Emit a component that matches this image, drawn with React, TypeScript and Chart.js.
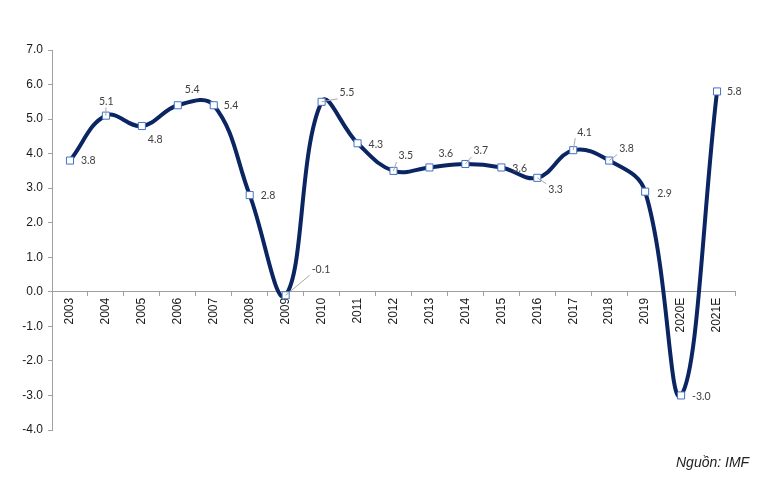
import React, { useEffect, useRef } from "react";
import { Chart, registerables } from "chart.js";

Chart.register(...registerables);

// ---- data ----
const CATEGORIES = [
  "2003", "2004", "2005", "2006", "2007", "2008", "2009", "2010", "2011", "2012",
  "2013", "2014", "2015", "2016", "2017", "2018", "2019", "2020E", "2021E",
];
const GDP_GROWTH = [3.8, 5.1, 4.8, 5.4, 5.4, 2.8, -0.1, 5.5, 4.3, 3.5, 3.6, 3.7, 3.6, 3.3, 4.1, 3.8, 2.9, -3.0, 5.8];
const Y_MIN = -4;
const Y_MAX = 7;
const Y_STEP = 1;
const SOURCE_TEXT = "Nguồn: IMF";

// ---- label placement (styling): [dx to label left edge, dy to label centre, leader line] ----
const LABEL_PLACEMENT: [number, number, boolean][] = [
  [11, 0, false],
  [-7, -14, true],
  [6, 14, false],
  [7, -16, false],
  [10, 0, false],
  [11, 1, false],
  [26, -26, true],
  [18, -9, true],
  [11, 1, false],
  [5, -15, true],
  [9, -14, false],
  [8, -13, true],
  [11, 1, false],
  [11, 12, true],
  [4, -18, true],
  [10, -12, true],
  [12, 2, false],
  [11, 1, false],
  [10, 0, false],
];

const labelPlugin = {
  id: "valueLabels",
  afterDatasetsDraw(chart: any) {
    const ctx = chart.ctx;
    const meta = chart.getDatasetMeta(0);
    ctx.save();
    ctx.font = "10.5px Lato, 'Liberation Sans', sans-serif";
    ctx.textBaseline = "middle";
    ctx.textAlign = "left";
    meta.data.forEach((pt: any, i: number) => {
      const v = GDP_GROWTH[i];
      const text = v.toFixed(1);
      const [dx, dy, leader] = LABEL_PLACEMENT[i];
      const w = ctx.measureText(text).width;
      const lx = pt.x + dx;
      const ly = pt.y + dy;
      if (leader) {
        const tx = Math.max(lx - 2, Math.min(pt.x, lx + w));
        const ty = Math.max(ly - 6, Math.min(pt.y, ly + 6));
        ctx.strokeStyle = "#A6A6A6";
        ctx.lineWidth = 1;
        ctx.beginPath();
        ctx.moveTo(pt.x, pt.y);
        ctx.lineTo(tx, ty);
        ctx.stroke();
      }
      ctx.fillStyle = "#404040";
      ctx.fillText(text, lx, ly);
    });
    ctx.restore();
  },
};

export default function App() {
  const ref = useRef<HTMLCanvasElement | null>(null);

  useEffect(() => {
    if (!ref.current) return;
    const chart = new Chart(ref.current, {
      type: "line",
      data: {
        labels: CATEGORIES,
        datasets: [
          {
            data: GDP_GROWTH,
            borderColor: "#0B2563",
            borderWidth: 4,
            tension: 0.4,
            pointStyle: "rect",
            pointRadius: 5,
            pointBackgroundColor: "#FFFFFF",
            pointBorderColor: "#4472C4",
            pointBorderWidth: 1,
            fill: false,
          },
        ],
      },
      options: {
        responsive: false,
        animation: false,
        devicePixelRatio: 1,
        layout: { padding: { top: 50, bottom: 53, right: 30, left: 0 } },
        plugins: {
          legend: { display: false },
          tooltip: { enabled: false },
        },
        scales: {
          x: {
            position: { y: 0 } as any,
            offset: true,
            grid: {
              drawOnChartArea: false,
              color: "#A0A0A0",
              tickLength: 4,
              offset: true,
            },
            border: { color: "#A0A0A0", width: 1 },
            ticks: {
              color: "#1a1a1a",
              font: { family: "'Liberation Sans', Arial, sans-serif", size: 12 },
              minRotation: 90,
              maxRotation: 90,
              autoSkip: false,
              padding: 2,
            },
          },
          y: {
            min: Y_MIN,
            max: Y_MAX,
            afterFit: (scale: any) => {
              scale.width = 52;
            },
            grid: {
              drawOnChartArea: false,
              color: "#A0A0A0",
              tickLength: 4,
            },
            border: { color: "#A0A0A0", width: 1 },
            ticks: {
              stepSize: Y_STEP,
              color: "#1a1a1a",
              font: { family: "'Liberation Sans', Arial, sans-serif", size: 12 },
              padding: 5,
              callback: (v: any) => Number(v).toFixed(1),
            },
          },
        },
      },
      plugins: [labelPlugin],
    });
    return () => chart.destroy();
  }, []);

  return (
    <div style={{ position: "fixed", left: 0, top: 0, width: 765, height: 483, background: "#fff" }}>
      <canvas ref={ref} width={765} height={483} style={{ width: 765, height: 483, display: "block" }} />
      <div
        style={{
          position: "absolute",
          left: 676,
          top: 453,
          fontFamily: "'Liberation Sans', Arial, sans-serif",
          fontStyle: "italic",
          fontSize: 14,
          color: "#222",
          whiteSpace: "nowrap",
          lineHeight: "18px",
        }}
      >
        {SOURCE_TEXT}
      </div>
    </div>
  );
}
